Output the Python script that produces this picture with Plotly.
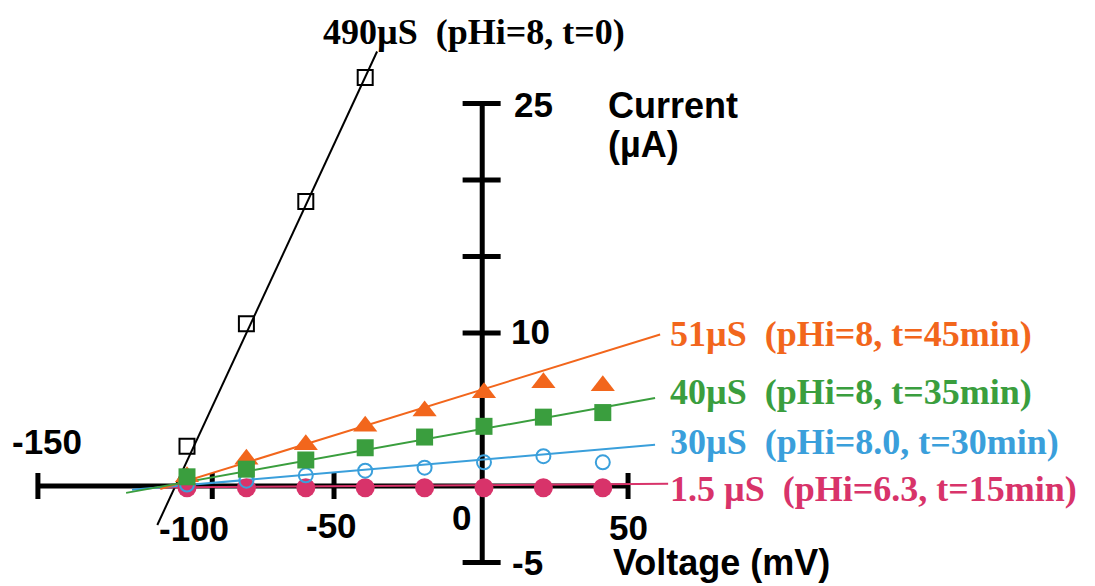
import plotly.graph_objects as go

# ---- data ----
voltage = [-100, -80, -60, -40, -20, 0, 20, 40]          # mV
v_black = [-100, -80, -60, -40]
i_black = [2.6, 10.6, 18.6, 26.7]                          # 490 uS
i_orange = [0.6, 1.75, 2.7, 3.9, 4.9, 6.1, 6.75, 6.55]     # 51 uS
i_green = [0.6, 1.1, 1.7, 2.5, 3.2, 3.9, 4.5, 4.8]         # 40 uS
i_blue = [0.1, 0.35, 0.7, 1.0, 1.2, 1.55, 1.95, 1.55]      # 30 uS
i_pink = [-0.12, -0.12, -0.12, -0.12, -0.12, -0.12, -0.12, -0.12]  # 1.5 uS

# fitted lines (end points)
fit_v_black = [-110, -36]
fit_i_black = [-2.55, 28.4]
fit_v_orange = [-109, 59.3]
fit_i_orange = [-0.2, 9.9]
fit_v_green = [-120.5, 57.6]
fit_i_green = [-0.45, 5.75]
fit_v_blue = [-118.5, 57.6]
fit_i_blue = [-0.25, 2.7]
fit_v_pink = [-110, 62]
fit_i_pink = [-0.1, 0.15]

# axes
x_axis_span = [-150.2, 48.5]
y_axis_span = [-5, 25]
x_tick_pos = [-150.2, -91.5, -50.5, 48.5]
y_tick_pos = [25, 20, 15, 10, -5]
x_tick_labels = ["-150", "-100", "-50", "0", "50"]
y_tick_labels = ["25", "10", "-5"]

series_labels = [
    "51µS\u00a0\u00a0(pHi=8, t=45min)",
    "40µS\u00a0\u00a0(pHi=8, t=35min)",
    "30µS\u00a0\u00a0(pHi=8.0, t=30min)",
    "1.5 µS\u00a0\u00a0(pHi=6.3, t=15min)",
]
title_label = "490µS\u00a0\u00a0(pHi=8, t=0)"

# ---- styles ----
ORANGE = "#F2661C"
GREEN = "#3A9E3E"
BLUE = "#3A9FDB"
PINK = "#D8336A"
SANS = "Liberation Sans, Arial, sans-serif"
SERIF = "Liberation Serif, Times New Roman, serif"

# page offset of the plot (body margin) compensated in the axis ranges
OFF = 8
W, H = 1095 - OFF, 586 - OFF
X0PX, XS = 484 - OFF, 2.97     # pixel of 0 mV, px per mV
Y0PX, YS = 486 - OFF, 15.3     # pixel of 0 uA, px per uA

fig = go.Figure()

# axis lines
AX_Y0 = -0.6  # x position (mV) of the vertical axis line
fig.add_trace(go.Scatter(x=x_axis_span, y=[0, 0], mode="lines",
                         line=dict(color="black", width=5), hoverinfo="skip"))
fig.add_trace(go.Scatter(x=[AX_Y0, AX_Y0], y=y_axis_span, mode="lines",
                         line=dict(color="black", width=5), hoverinfo="skip"))
tx, ty = [], []
for p in x_tick_pos:
    tx += [p, p, None]
    ty += [-0.85, 0.85, None]
for p in y_tick_pos:
    tx += [AX_Y0 - 6.6, AX_Y0 + 6.2, None]
    ty += [p, p, None]
fig.add_trace(go.Scatter(x=tx, y=ty, mode="lines",
                         line=dict(color="black", width=5), hoverinfo="skip"))

# fit lines
for fv, fi, c in [(fit_v_black, fit_i_black, "black"),
                  (fit_v_pink, fit_i_pink, PINK),
                  (fit_v_blue, fit_i_blue, BLUE),
                  (fit_v_orange, fit_i_orange, ORANGE),
                  (fit_v_green, fit_i_green, GREEN)]:
    fig.add_trace(go.Scatter(x=fv, y=fi, mode="lines",
                             line=dict(color=c, width=2), hoverinfo="skip"))

# markers
fig.add_trace(go.Scatter(x=v_black, y=i_black, mode="markers",
                         marker=dict(symbol="square-open", size=15, color="black",
                                     line=dict(width=2, color="black"))))
fig.add_trace(go.Scatter(x=voltage, y=i_pink, mode="markers",
                         marker=dict(symbol="circle", size=19, color=PINK,
                                     line=dict(width=0))))
fig.add_trace(go.Scatter(x=voltage, y=i_blue, mode="markers",
                         marker=dict(symbol="circle-open", size=14, color=BLUE,
                                     line=dict(width=2, color=BLUE))))
fig.add_trace(go.Scatter(x=voltage, y=i_orange, mode="markers",
                         marker=dict(symbol="triangle-up", size=21, color=ORANGE,
                                     line=dict(width=0))))
fig.add_trace(go.Scatter(x=voltage, y=i_green, mode="markers",
                         marker=dict(symbol="square", size=17, color=GREEN,
                                     line=dict(width=0))))

ann = []
def sans(text, x, y, xanchor="center", size=36):
    ann.append(dict(text="<b>%s</b>" % text, x=x, y=y, xref="x", yref="y",
                    xanchor=xanchor, yanchor="middle", showarrow=False,
                    font=dict(family=SANS, size=size, color="black")))

def serif(text, x, y, color):
    ann.append(dict(text="<b>%s</b>" % text, x=x, y=y, xref="x", yref="y",
                    xanchor="left", yanchor="middle", showarrow=False,
                    font=dict(family=SERIF, size=36, color=color)))

# x tick labels
for lab, (x, y) in zip(x_tick_labels, [(-147.1, 2.94), (-97.6, -2.81), (-51.2, -2.61),
                                        (-7.7, -2.03), (48.8, -2.68)]):
    sans(lab, x, y, size=35)
# y tick labels
for lab, (x, y) in zip(y_tick_labels, [(16.8, 24.93), (15.5, 10.13), (14.8, -5.03)]):
    sans(lab, x, y, size=35)
# axis titles
sans("Current", 41.0, 24.84, "left")
sans("(µA)", 41.0, 22.35, "left")
sans("Voltage (mV)", 42.8, -4.97, "left")

# series labels
for lab, y, c in zip(series_labels, [9.93, 6.14, 2.88, -0.2], [ORANGE, GREEN, BLUE, PINK]):
    serif(lab, 62.0, y, c)
serif(title_label, -55.0, 29.67, "black")

fig.update_layout(
    width=W, height=H, autosize=False,
    margin=dict(l=0, r=0, t=0, b=0),
    paper_bgcolor="white", plot_bgcolor="white",
    showlegend=False,
    xaxis=dict(range=[-X0PX / XS, (W - X0PX) / XS], visible=False, fixedrange=True),
    yaxis=dict(range=[(Y0PX - H) / YS, Y0PX / YS], visible=False, fixedrange=True),
    annotations=ann,
)

fig.write_html("out.html", config={"displayModeBar": False})
